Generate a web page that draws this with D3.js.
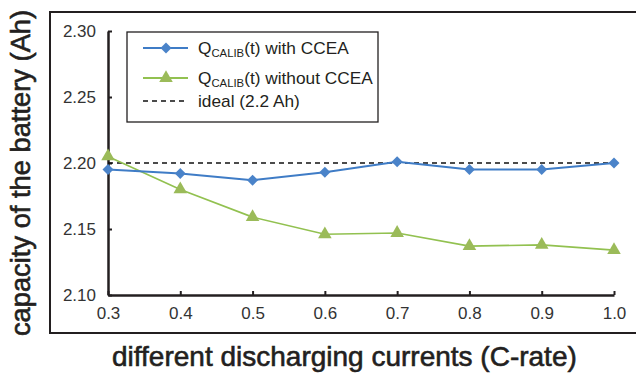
<html>
<head>
<style>
  body { margin: 0; background: #fff; }
  text { font-family: 'Liberation Sans', Arial, sans-serif; fill: #231f20; }
  .tick text { font-size: 17px; fill: #333; }
  .domain, .tick line { stroke: #231f20; }
  .title { stroke: #231f20; stroke-width: 0.6px; }
</style>
</head>
<body>
<script src="https://cdn.jsdelivr.net/npm/d3@7"></script>
<script>

var width = 636;
var height = 375;

// C-rate and capacity readings
var rates = [0.3, 0.4, 0.5, 0.6, 0.7, 0.8, 0.9, 1.0];
var withCCEA = [2.195, 2.192, 2.187, 2.193, 2.201, 2.195, 2.195, 2.200];
var withoutCCEA = [2.205, 2.180, 2.159, 2.146, 2.147, 2.137, 2.138, 2.134];
var ideal = 2.2;
var yTicks = [2.10, 2.15, 2.20, 2.25, 2.30];
var xTicks = [0.3, 0.4, 0.5, 0.6, 0.7, 0.8, 0.9, 1.0];

var blue = '#3f7cc6', blueMark = '#4a83c9';
var green = '#92c150', greenMark = '#9bbb59';

var svg = d3.select('body').append('svg')
  .attr('width', width)
  .attr('height', height);

var x = d3.scaleLinear().domain([0.3, 1.0]).range([108, 614]);
var y = d3.scaleLinear().domain([2.10, 2.30]).range([295, 31]);

// outer frame
svg.append('rect')
  .attr('x', 50).attr('y', 12)
  .attr('width', 600).attr('height', 321)
  .attr('fill', 'none')
  .attr('stroke', '#231f20')
  .attr('stroke-width', 2);

// axes
var yAxis = svg.append('g')
  .attr('transform', 'translate(' + x(0.3) + ',0)')
  .call(d3.axisLeft(y).tickValues(yTicks).tickFormat(d3.format('.2f')).tickSizeInner(-4).tickSizeOuter(0));
yAxis.selectAll('text').attr('x', -12);

var xAxis = svg.append('g')
  .attr('transform', 'translate(0,' + y(2.10) + ')')
  .call(d3.axisBottom(x).tickValues(xTicks).tickFormat(d3.format('.1f')).tickSizeInner(-4).tickSizeOuter(0));
xAxis.selectAll('text').attr('y', 12);

svg.selectAll('.domain').attr('stroke-width', 2.5);
svg.selectAll('.tick line').attr('stroke-width', 2);

// ideal line
svg.append('line')
  .attr('x1', x(0.3)).attr('x2', x(1.0))
  .attr('y1', y(ideal)).attr('y2', y(ideal))
  .attr('stroke', '#111')
  .attr('stroke-width', 1.5)
  .attr('stroke-dasharray', '5,4');

var line = d3.line()
  .x(function (d, i) { return x(rates[i]); })
  .y(function (d) { return y(d); });

svg.append('path')
  .datum(withoutCCEA)
  .attr('d', line)
  .attr('fill', 'none')
  .attr('stroke', green)
  .attr('stroke-width', 1.6);

svg.append('path')
  .datum(withCCEA)
  .attr('d', line)
  .attr('fill', 'none')
  .attr('stroke', blue)
  .attr('stroke-width', 2);

var diamond = d3.symbol().type(d3.symbolSquare).size(60);
var triangle = d3.symbol().type(d3.symbolTriangle).size(80);

svg.selectAll('.tri')
  .data(withoutCCEA)
  .enter().append('path')
  .attr('class', 'tri')
  .attr('d', triangle)
  .attr('transform', function (d, i) { return 'translate(' + x(rates[i]) + ',' + y(d) + ')'; })
  .attr('fill', greenMark);

svg.selectAll('.dia')
  .data(withCCEA)
  .enter().append('path')
  .attr('class', 'dia')
  .attr('d', diamond)
  .attr('transform', function (d, i) { return 'translate(' + x(rates[i]) + ',' + y(d) + ') rotate(45)'; })
  .attr('fill', blueMark);

// legend
var legend = svg.append('g');
legend.append('rect')
  .attr('x', 127).attr('y', 32)
  .attr('width', 251).attr('height', 90)
  .attr('fill', '#fff')
  .attr('stroke', '#231f20')
  .attr('stroke-width', 1.3);

var items = [
  { label: ' with CCEA', sub: true, color: blue, mark: 'dia', fill: blueMark },
  { label: ' without CCEA', sub: true, color: green, mark: 'tri', fill: greenMark },
  { label: 'ideal (2.2 Ah)', sub: false, color: '#111', mark: null }
];
var rowY = [48, 78, 101];

items.forEach(function (it, i) {
  var g = legend.append('g').attr('transform', 'translate(0,' + rowY[i] + ')');
  g.append('line')
    .attr('x1', 143).attr('x2', 188)
    .attr('stroke', it.color)
    .attr('stroke-width', it.mark ? 2 : 1.5)
    .attr('stroke-dasharray', it.mark ? null : '5,4');
  if (it.mark === 'dia') {
    g.append('path').attr('d', diamond).attr('transform', 'translate(166,0) rotate(45)').attr('fill', it.fill);
  } else if (it.mark === 'tri') {
    g.append('path').attr('d', triangle).attr('transform', 'translate(166,0)').attr('fill', it.fill);
  }
  var t = g.append('text')
    .attr('transform', 'translate(198,6) scale(1.08,1)')
    .style('font-size', '16px');
  if (it.sub) {
    t.append('tspan').text('Q');
    t.append('tspan').attr('dy', 2.5).style('font-size', '10.5px').text('CALIB');
    t.append('tspan').attr('dy', -2.5).text('(t)' + it.label);
  } else {
    t.text(it.label);
  }
});

// axis titles
svg.append('text')
  .attr('class', 'title')
  .attr('x', 112).attr('y', 366)
  .style('font-size', '28px')
  .text('different discharging currents (C-rate)');

svg.append('text')
  .attr('class', 'title')
  .attr('transform', 'translate(30,173) rotate(-90)')
  .attr('text-anchor', 'middle')
  .style('font-size', '27.3px')
  .text('capacity of the battery (Ah)');

</script>
</body>
</html>
